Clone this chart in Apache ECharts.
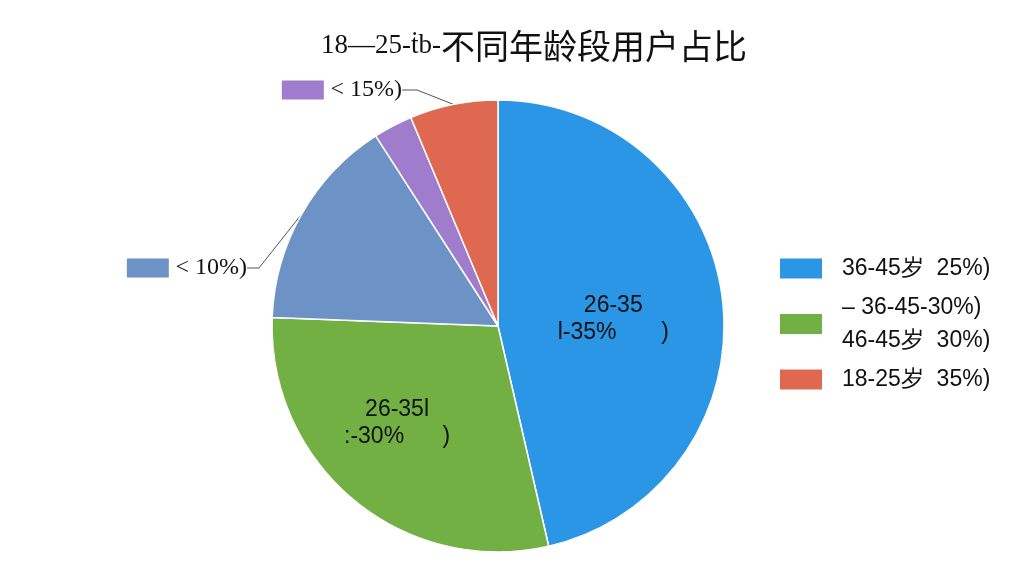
<!DOCTYPE html>
<html>
<head>
<meta charset="utf-8">
<script src="https://cdn.jsdelivr.net/npm/echarts@6/dist/echarts.min.js"></script>
<style>
  html, body { margin: 0; padding: 0; background: #fff; }
  #main { width: 1024px; height: 576px; }
</style>
</head>
<body>
<div id="main"></div>
<script>
// slice names (as shown in legend / labels)
const names = ['36-45岁  25%)', '– 36-45-30%)\n46-45岁  30%)', '< 10%)', '< 15%)', '18-25岁  35%)'];
const values = [46.4, 29.2, 15.3, 2.8, 6.3];
const colors = ['#2c96e6', '#72b043', '#6d93c6', '#a07ccc', '#df6950'];
const legendNames = ['36-45岁  25%)', '– 36-45-30%)\n46-45岁  30%)', '18-25岁  35%)'];

let chart = echarts.init(document.getElementById('main'));

const innerLabel = (text) => ({
    show: true,
    position: 'inner',
    formatter: text,
    color: '#111',
    fontSize: 23,
    fontFamily: 'Arial, Liberation Sans, sans-serif',
    lineHeight: 27
});
const outerLabel = (c, text) => ({
    show: true,
    position: 'outside',
    formatter: '{box|}  {t|' + text + '}',
    rich: {
        box: { backgroundColor: c, width: 42, height: 19 },
        t: { fontSize: 24, color: '#111', fontFamily: 'Liberation Serif, DejaVu Serif, serif' }
    }
});

let data = names.map((n, i) => ({ name: n, value: values[i], itemStyle: { color: colors[i] } }));
data[0].label = innerLabel('26-35\nl‑35%       )');
data[0].label.offset = [0, 6];
data[1].label = innerLabel('26-35l\n:‑30%      )');
data[1].label.offset = [-27, 8];
data[2].label = outerLabel(colors[2], names[2]);
data[2].labelLine = { show: true, length: 8, length2: 12 };
// the "< 15%)" tag is drawn off the red slice's edge in the picture
data[4].label = outerLabel(colors[3], names[3]);
data[4].labelLine = { show: true, length: 10, length2: 15 };

// where the two outside labels sit
const outsideSpots = { 2: { x: 247, y: 268 }, 4: { x: 402, y: 90 } };

let option = {
    backgroundColor: '#fff',
    animation: false,
    title: {
        text: '{a|18—25-ṫb-}{b|不同年龄段用户占比}',
        left: 316,
        top: 24,
        textStyle: {
            rich: {
                a: { fontSize: 27, fontFamily: 'Liberation Serif, DejaVu Serif, serif', color: '#111', fontWeight: 'normal' },
                b: { fontSize: 34, fontFamily: 'Noto Sans CJK SC', color: '#111', fontWeight: 'normal' }
            }
        }
    },
    legend: {
        orient: 'vertical',
        left: 773,
        top: 247,
        itemWidth: 44,
        itemHeight: 22,
        itemGap: 6,
        icon: 'rect',
        data: legendNames,
        selectedMode: false,
        textStyle: { fontSize: 23, color: '#111', lineHeight: 33, padding: [0, 0, 0, 14], fontFamily: 'Arial, Liberation Sans, sans-serif' }
    },
    series: [{
        type: 'pie',
        center: [498, 326],
        radius: 226,
        startAngle: 90,
        clockwise: true,
        label: { show: false },
        labelLine: { show: false, lineStyle: { color: '#555' } },
        labelLayout: function (p) {
            let s = outsideSpots[p.dataIndex];
            if (!s) return {};
            return { x: s.x, y: s.y, align: 'right', verticalAlign: 'middle' };
        },
        itemStyle: { borderColor: '#fff', borderWidth: 1.5 },
        data: data
    }]
};
chart.setOption(option);
</script>
</body>
</html>
